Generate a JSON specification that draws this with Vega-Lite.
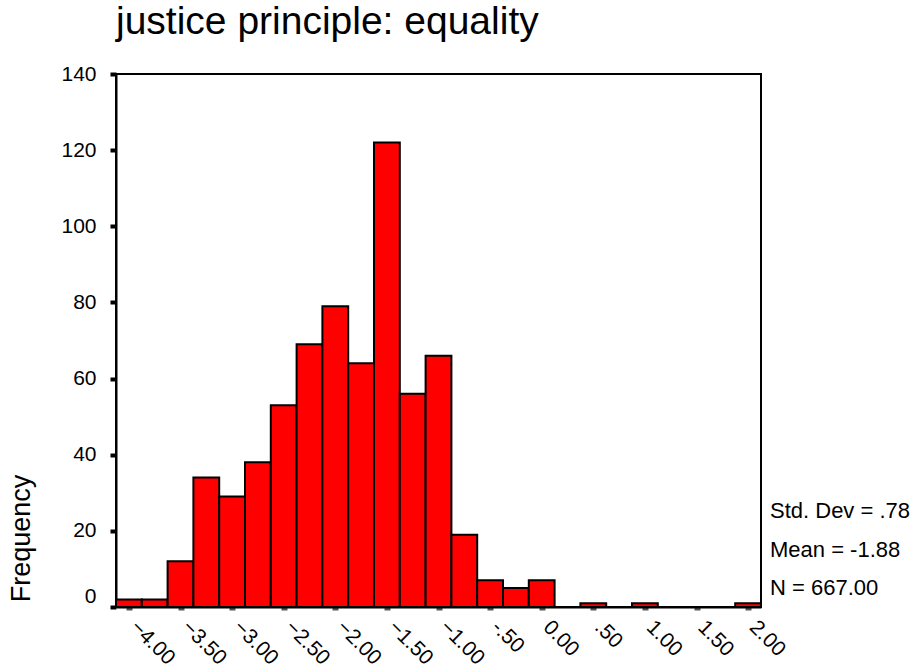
{
  "$schema": "https://vega.github.io/schema/vega-lite/v6.json",
  "width": 645,
  "height": 533,
  "autosize": {"type": "none"},
  "padding": {"left": 116, "top": 74, "right": 156, "bottom": 61},
  "background": "white",
  "config": {
    "font": "Liberation Sans",
    "view": {"stroke": "black", "strokeWidth": 2},
    "title": {"fontWeight": "normal"}
  },
  "title": {
    "text": "justice principle: equality",
    "anchor": "start",
    "frame": "group",
    "font": "Liberation Sans",
    "fontSize": 39,
    "fontWeight": 400,
    "color": "black",
    "baseline": "alphabetic",
    "offset": 0,
    "dy": 10
  },
  "layer": [
    {
      "data": {
        "values": [
          {"bin_start": -4.125, "bin_end": -3.875, "count": 2},
          {"bin_start": -3.875, "bin_end": -3.625, "count": 2},
          {"bin_start": -3.625, "bin_end": -3.375, "count": 12},
          {"bin_start": -3.375, "bin_end": -3.125, "count": 34},
          {"bin_start": -3.125, "bin_end": -2.875, "count": 29},
          {"bin_start": -2.875, "bin_end": -2.625, "count": 38},
          {"bin_start": -2.625, "bin_end": -2.375, "count": 53},
          {"bin_start": -2.375, "bin_end": -2.125, "count": 69},
          {"bin_start": -2.125, "bin_end": -1.875, "count": 79},
          {"bin_start": -1.875, "bin_end": -1.625, "count": 64},
          {"bin_start": -1.625, "bin_end": -1.375, "count": 122},
          {"bin_start": -1.375, "bin_end": -1.125, "count": 56},
          {"bin_start": -1.125, "bin_end": -0.875, "count": 66},
          {"bin_start": -0.875, "bin_end": -0.625, "count": 19},
          {"bin_start": -0.625, "bin_end": -0.375, "count": 7},
          {"bin_start": -0.375, "bin_end": -0.125, "count": 5},
          {"bin_start": -0.125, "bin_end": 0.125, "count": 7},
          {"bin_start": 0.125, "bin_end": 0.375, "count": 0},
          {"bin_start": 0.375, "bin_end": 0.625, "count": 1},
          {"bin_start": 0.625, "bin_end": 0.875, "count": 0},
          {"bin_start": 0.875, "bin_end": 1.125, "count": 1},
          {"bin_start": 1.125, "bin_end": 1.375, "count": 0},
          {"bin_start": 1.375, "bin_end": 1.625, "count": 0},
          {"bin_start": 1.625, "bin_end": 1.875, "count": 0},
          {"bin_start": 1.875, "bin_end": 2.125, "count": 1}
        ]
      },
      "mark": {"type": "rect", "fill": "#ff0000", "stroke": "black", "strokeWidth": 2},
      "encoding": {
        "x": {
          "field": "bin_start",
          "type": "quantitative",
          "scale": {"domain": [-4.125, 2.125], "nice": false, "zero": false},
          "axis": {
            "title": null,
            "values": [-4, -3.5, -3, -2.5, -2, -1.5, -1, -0.5, 0, 0.5, 1, 1.5, 2],
            "labelExpr": "datum.value == -0.5 ? '-.50' : datum.value == 0.5 ? '.50' : format(datum.value, '.2f')",
            "labelAngle": 45,
            "labelOverlap": false,
            "labelFontSize": 21,
            "labelColor": "black",
            "labelPadding": 6,
            "labelOffset": 12,
            "labelFont": "Liberation Sans",
            "tickSize": 3,
            "tickWidth": 6,
            "tickColor": "#555555",
            "domainColor": "black",
            "domainWidth": 2,
            "grid": false
          }
        },
        "x2": {"field": "bin_end"},
        "y": {
          "field": "count",
          "type": "quantitative",
          "scale": {"domain": [0, 140], "nice": false},
          "axis": {
            "title": "Frequency",
            "titleFontSize": 27,
            "titleFontWeight": "normal",
            "titleFont": "Liberation Sans",
            "titleColor": "black",
            "titleAngle": -90,
            "titleAlign": "center",
            "titleBaseline": "middle",
            "titleX": -95,
            "titleY": 464,
            "values": [0, 20, 40, 60, 80, 100, 120, 140],
            "labelFontSize": 21,
            "labelFont": "Liberation Sans",
            "labelColor": "black",
            "labelPadding": 14,
            "labelOffset": {"condition": {"test": "datum.value == 0", "value": -11}, "value": 0},
            "tickSize": 6,
            "tickWidth": 4,
            "tickColor": "black",
            "domainColor": "black",
            "domainWidth": 2,
            "grid": false
          }
        },
        "y2": {"datum": 0}
      }
    },
    {
      "data": {"values": [{"sd": ".78", "mean": "-1.88", "n": "667.00"}]},
      "mark": {
        "type": "text",
        "align": "left",
        "baseline": "alphabetic",
        "fontSize": 22,
        "font": "Liberation Sans",
        "color": "black",
        "lineHeight": 38.5,
        "dx": 9,
        "dy": -89
      },
      "encoding": {
        "x": {"datum": 2.125, "type": "quantitative"},
        "y": {"datum": 0, "type": "quantitative"},
        "text": {"value": ["Std. Dev = .78", "Mean = -1.88", "N = 667.00"]}
      }
    }
  ]
}
